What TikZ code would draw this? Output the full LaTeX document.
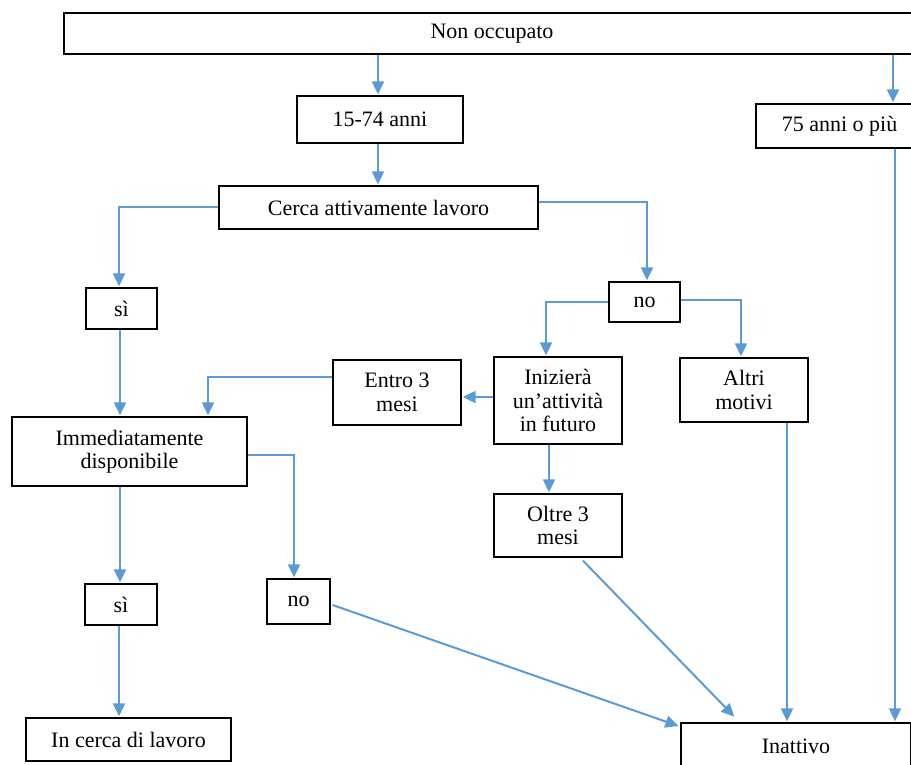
\documentclass[tikz,border=0pt]{standalone}
\usepackage{fontspec}
\setmainfont{Liberation Serif}
\usetikzlibrary{arrows.meta,calc}
\definecolor{arrblue}{RGB}{91,155,213}
\tikzset{
  box/.style={draw=black,line width=1.3pt,fill=white,rectangle,inner sep=0pt,align=center,
    font=\fontsize{22}{23.5}\selectfont},
  arr/.style={draw=arrblue,line width=2pt,-{Triangle[width=12pt,length=13pt]},shorten >=1pt}
}
\begin{document}
\begin{tikzpicture}[x=1pt,y=-1pt]
\useasboundingbox (0,0) rectangle (911,765);
\node[box,minimum width=856,minimum height=41] (nonocc) at (492,33.5) {Non occupato};
\node[box,minimum width=166,minimum height=47] (a1574) at (380,119.5) {15-74 anni};
\node[box,minimum width=167,minimum height=44] (a75) at (839.5,126) {75 anni o più};
\node[box,minimum width=319,minimum height=43] (cerca) at (378.5,207.5) {Cerca attivamente lavoro};
\node[box,minimum width=71,minimum height=41] (si1) at (121.5,308.5) {sì};
\node[box,minimum width=71,minimum height=40] (no1) at (644.5,302) {no};
\node[box,minimum width=128,minimum height=87] (iniz) at (558,400.5) {Inizierà\\un’attività\\in futuro};
\node[box,minimum width=128,minimum height=65] (entro) at (397,392.5) {Entro 3\\mesi};
\node[box,minimum width=128,minimum height=64] (altri) at (744,390) {Altri\\motivi};
\node[box,minimum width=128,minimum height=63] (oltre) at (558,525.5) {Oltre 3\\mesi};
\node[box,minimum width=235,minimum height=69] (immed) at (129.5,451.5) {Immediatamente\\disponibile};
\node[box,minimum width=63,minimum height=45] (no2) at (298.5,601.5) {no};
\node[box,minimum width=72,minimum height=41] (si2) at (121,604.5) {sì};
\node[box,minimum width=205,minimum height=43] (incerca) at (128.5,739.5) {In cerca di lavoro};
\node[box,minimum width=230,minimum height=46] (inatt) at (796,746) {Inattivo};

\draw[arr] ([xshift=-2pt]a1574.north |- nonocc.south) -- ([xshift=-2pt]a1574.north);
\draw[arr] ([xshift=53.5pt]a75.north |- nonocc.south) -- ([xshift=53.5pt]a75.north);
\draw[arr] ([xshift=55.5pt]a75.south) -- ([xshift=55.5pt]a75.south |- inatt.north);
\draw[arr] ([xshift=-2pt]a1574.south) -- ([xshift=-2pt]a1574.south |- cerca.north);
\draw[arr] (cerca.west) -| ([xshift=-2.5pt]si1.north);
\draw[arr] ([yshift=5.5pt]cerca.east) -| ([xshift=2.5pt]no1.north);
\draw[arr] (no1.west) -| ([xshift=-12pt]iniz.north);
\draw[arr] ([yshift=2pt]no1.east) -| ([xshift=-3pt]altri.north);
\draw[arr] ([yshift=3.5pt]iniz.west) -- ([yshift=3.5pt]iniz.west -| entro.east);
\draw[arr] ([yshift=15.5pt]entro.west) -| ([xshift=78.5pt]immed.north);
\draw[arr] ([xshift=-9pt]iniz.south) -- ([xshift=-9pt]oltre.north);
\draw[arr] ([xshift=43pt]altri.south) -- ([xshift=43pt]altri.south |- inatt.north);
\draw[arr] ([xshift=25pt,yshift=-3pt]oltre.south) -- ([xshift=-61pt,yshift=5pt]inatt.north);
\draw[arr] ([xshift=2pt,yshift=-3.5pt]no2.east) -- ([xshift=-1pt,yshift=-4pt]inatt.north west);
\draw[arr] ([yshift=-3.5pt]immed.east) -| ([xshift=-4.5pt]no2.north);
\draw[arr] ([xshift=-1.5pt]si1.south) -- ([xshift=-1.5pt]si1.south |- immed.north);
\draw[arr] ([xshift=-9.5pt]immed.south) -- ([xshift=-9.5pt]immed.south |- si2.north);
\draw[arr] ([xshift=-2pt]si2.south) -- ([xshift=-2pt]si2.south |- incerca.north);
\end{tikzpicture}
\end{document}
